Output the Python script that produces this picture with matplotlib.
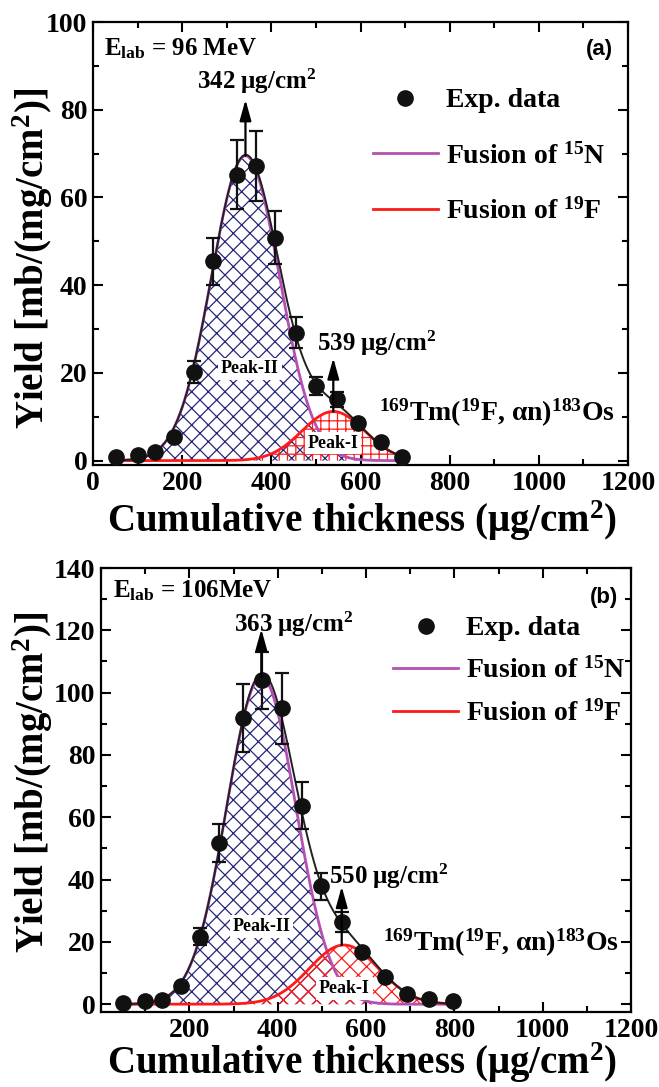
import numpy as np
import matplotlib
matplotlib.use('Agg')
import matplotlib.pyplot as plt
from matplotlib.lines import Line2D
from matplotlib.ticker import MultipleLocator

plt.rcParams['font.family'] = ['Liberation Serif', 'DejaVu Serif']
plt.rcParams['font.weight'] = 'bold'
plt.rcParams['mathtext.fontset'] = 'custom'
plt.rcParams['mathtext.rm'] = 'Liberation Serif:bold'
plt.rcParams['mathtext.it'] = 'Liberation Serif:italic:bold'
plt.rcParams['mathtext.bf'] = 'Liberation Serif:bold'
plt.rcParams['hatch.linewidth'] = 0.9

# ---------------- data: panel (a) E_lab = 96 MeV ----------------
thick_a = [51, 102, 140, 182, 226, 270, 322, 365, 409, 455, 500, 547, 595, 645, 693]
yield_a = [0.8, 1.3, 2.0, 5.3, 20.3, 45.4, 65.2, 67.1, 50.8, 29.2, 17.0, 14.0, 8.5, 4.3, 0.8]
err_a = [0.3, 0.3, 0.3, 0.5, 2.5, 5.4, 7.8, 8.0, 6.0, 3.5, 2.0, 1.7, 0.8, 0.5, 0.3]
# Gaussian fit parameters: [Peak-II (15N), Peak-I (19F)]
centre_a = [342, 539]
height_a = [69.5, 11.2]
sigma_a = [76, 70]
range_a = [50, 693]

# ---------------- data: panel (b) E_lab = 106 MeV ----------------
thick_b = [50, 99, 139, 182, 225, 267, 321, 364, 410, 455, 498, 545, 592, 642, 692, 743, 796]
yield_b = [0.5, 0.9, 1.4, 5.9, 21.7, 51.7, 91.9, 103.9, 95.0, 63.7, 37.8, 26.4, 16.6, 8.8, 3.2, 1.8, 1.1]
err_b = [0.3, 0.3, 0.3, 0.5, 2.8, 6.0, 11.0, 9.0, 11.4, 7.6, 4.3, 3.3, 0.8, 0.5, 0.3, 0.3, 0.3]
centre_b = [363, 550]
height_b = [105, 19]
sigma_b = [78, 78]
range_b = [50, 796]

x_ticks_a = [0, 200, 400, 600, 800, 1000, 1200]
x_ticks_b = [200, 400, 600, 800, 1000, 1200]

PURPLE = '#b450b4'
RED = '#ff1a1a'
NAVY = '#26267a'

fig = plt.figure(figsize=(6.59, 10.87), dpi=100)
ax_a = fig.add_axes([93/659, 1-465/1087, 535/659, 443/1087])
ax_b = fig.add_axes([101/659, 1-1012/1087, 530/659, 444/1087])


def gauss(x, c, h, s):
    return h * np.exp(-(x - c) ** 2 / (2 * s ** 2))


def panel(ax, thick, yld, err, centre, height, sigma, xr, ylim, xticks, red_hatch,
          elab, tag, elab_xy, tag_xy, leg_anchor, leg_spacing, arrows, peak_labels,
          reac_xy):
    x = np.linspace(xr[0], xr[1], 400)
    n15 = gauss(x, centre[0], height[0], sigma[0])
    f19 = gauss(x, centre[1], height[1], sigma[1])
    total = n15 + f19
    ax.fill_between(x, 0, n15, facecolor='none', edgecolor=NAVY, hatch='xx', linewidth=0, zorder=1)
    ax.fill_between(x, 0, f19, facecolor='none', edgecolor=RED, hatch=red_hatch, linewidth=0, zorder=1.5)
    ax.plot(x, n15, color=PURPLE, lw=2, zorder=3)
    ax.plot(x, f19, color=RED, lw=2, zorder=3)
    ax.plot(x, total, color='#222222', lw=1.4, zorder=3.5)
    ax.errorbar(thick, yld, yerr=err, fmt='o', color='#111111', ms=11, capsize=5,
                elinewidth=1.6, capthick=1.6, zorder=5)

    for (xa, y0, y1, label, lx, ly) in arrows:
        ax.annotate('', xy=(xa, y1), xytext=(xa, y0),
                    arrowprops=dict(arrowstyle='-|>,head_length=0.9,head_width=0.25',
                                    lw=1.6, color='black', shrinkA=0, shrinkB=0,
                                    mutation_scale=14), zorder=6)
        ax.text(lx, ly, label, fontsize=18, ha='center', va='center', zorder=7)

    for (label, lx, ly) in peak_labels:
        ax.text(lx, ly, label, fontsize=13, ha='center', va='center', zorder=4,
                bbox=dict(facecolor='white', edgecolor='none', pad=2))

    ax.text(*elab_xy, elab, fontsize=18, ha='left', va='center')
    ax.text(*tag_xy, tag, fontsize=16, ha='center', va='center',
            family=['Liberation Sans', 'DejaVu Sans'], weight='bold')
    ax.text(*reac_xy, r'$^{169}$Tm($^{19}$F, αn)$^{183}$Os', fontsize=20,
            ha='center', va='center')

    handles = [Line2D([], [], marker='o', color='#111111', ls='none', ms=11),
               Line2D([], [], color=PURPLE, lw=2),
               Line2D([], [], color=RED, lw=2)]
    labels = ['Exp. data', r'Fusion of $^{15}$N', r'Fusion of $^{19}$F']
    ax.legend(handles, labels, loc='upper left', bbox_to_anchor=leg_anchor,
              frameon=False, borderpad=0, borderaxespad=0, handlelength=2.34,
              handletextpad=0.3, labelspacing=leg_spacing, fontsize=20)

    ax.set_xlim(0, 1200)
    ax.set_ylim(*ylim)
    ax.set_xticks(xticks)
    ax.xaxis.set_minor_locator(MultipleLocator(100))
    ax.yaxis.set_major_locator(MultipleLocator(20))
    ax.yaxis.set_minor_locator(MultipleLocator(10))
    ax.tick_params(which='both', direction='in', top=True, right=True, width=1.5,
                   labelsize=20, pad=4)
    ax.tick_params(which='major', length=7)
    ax.tick_params(which='minor', length=4)
    for sp in ax.spines.values():
        sp.set_linewidth(1.6)


panel(ax_a, thick_a, yield_a, err_a, centre_a, height_a, sigma_a, range_a,
      (-1, 100), x_ticks_a, '++', r'E$_{\mathrm{lab}}$ = 96 MeV', '(a)',
      (25, 94), (1137, 93.8), (0.5225, 0.851), 1.05,
      [(342, 69.5, 82.3, r'342 μg/cm$^{2}$', 368, 86.5),
       (539, 11.2, 23.4, r'539 μg/cm$^{2}$', 637, 26.8)],
      [('Peak-II', 352, 20.9), ('Peak-I', 539, 4.0)],
      (905, 10.8))

panel(ax_b, thick_b, yield_b, err_b, centre_b, height_b, sigma_b, range_b,
      (-2.5, 140), x_ticks_b, 'xx', r'E$_{\mathrm{lab}}$ = 106MeV', '(b)',
      (28, 132.8), (1139, 130.6), (0.551, 0.892), 0.58,
      [(363, 105, 120.4, r'363 μg/cm$^{2}$', 436, 122),
       (545, 19, 37.8, r'550 μg/cm$^{2}$', 651, 41)],
      [('Peak-II', 364, 25), ('Peak-I', 551, 5)],
      (905, 19.8))

for yc in (258, 782):
    fig.text(33/659, 1-yc/1087, r'Yield [mb/(mg/cm$^{2}$)]', rotation=90,
             fontsize=28, ha='center', va='center')
for yc in (521, 1063):
    fig.text(362/659, 1-yc/1087, r'Cumulative thickness (μg/cm$^{2}$)',
             fontsize=28, ha='center', va='center')

fig.savefig('out.png', dpi=100)
